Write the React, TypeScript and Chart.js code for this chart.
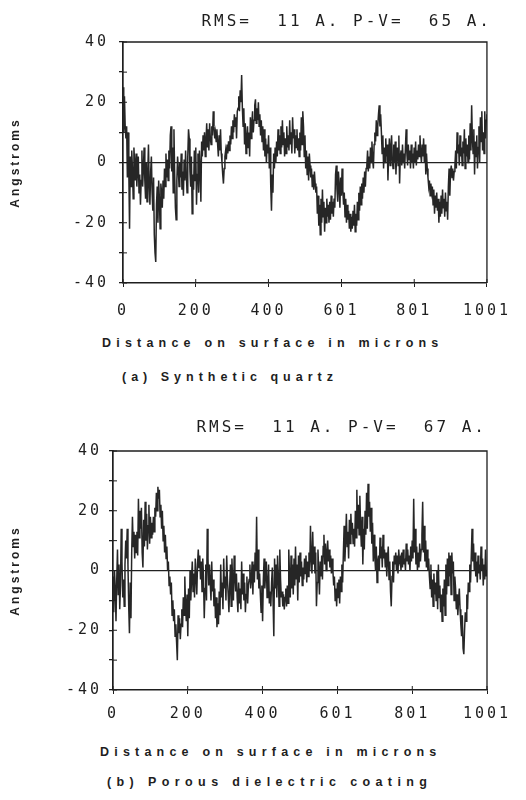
import React, { useEffect, useRef } from "react";
import { Chart, registerables } from "chart.js";

Chart.register(...registerables);

// ---- data ----------------------------------------------------------------
const X_MAX = 1001;
const X_TICK_VALUES = [0, 200, 400, 601, 801, 1001];
const X_TICK_LABELS = ["0", "200", "400", "601", "801", "1001"];
const Y_TICK_VALUES = [-40, -30, -20, -10, 0, 10, 20, 30, 40];
const Y_TICK_LABELS = ["-40", "", "-20", "", "0", "", "20", "", "40"];

const QUARTZ_TITLE = "RMS=  11 A. P-V=  65 A.";
const COATING_TITLE = "RMS=  11 A. P-V=  67 A.";
const X_AXIS_TITLE = "Distance on surface in microns";
const Y_AXIS_TITLE = "Angstroms";
const QUARTZ_CAPTION = "(a) Synthetic quartz";
const COATING_CAPTION = "(b) Porous dielectric coating";

// height profile, Angstroms, sampled uniformly from 0 to 1001 microns
const quartzValues = [
  25, 10, 22, 12, 8, 12, -5, 10, -3, -22,
  2, -8, 4, -2, -12, 5, 0, -6, 3, -8,
  -2, 2, -10, -4, -14, -6, 4, -8, -2, 5,
  -6, -12, 0, -13, -4, 6, -8, -14, -3, 2,
  -10, -16, -5, -24, -30, -33, -14, -8, -20, -6,
  -12, -22, -7, -10, -15, -6, -12, -2, -8, 3,
  -5, 1, -6, 4, -2, 9, 12, -3, 5, -10,
  11, -4, -15, -19, -6, 2, -2, -8, 0, -5,
  3, -9, -3, -11, 1, -6, 4, -4, -10, 2,
  11, 8, -3, -8, 2, -17, -4, -9, 4, -6,
  5, -14, -4, 3, -10, 4, -2, -13, 7, 2,
  9, 4, 10, 2, 7, 13, 5, 11, 4, 13,
  8, 6, 12, 9, 17, 12, 8, 10, 7, 11,
  6, 2, 9, 4, 11, 3, 0, -4, -7, -2,
  2, 4, 1, 6, 3, 7, 4, 9, 6, 12,
  8, 14, 10, 16, 12, 15, 8, 17, 18, 22,
  17, 24, 20, 29, 18, 12, 18, 6, 13, 3,
  8, 12, 5, 10, 2, 15, 8, 13, 17, 10,
  14, 19, 21, 13, 18, 14, 20, 12, 16, 9,
  14, 7, 12, 4, 11, 2, 8, 0, 6, 3,
  9, -2, 5, -8, -16, -4, -10, 3, -2, 5,
  0, 7, 2, 11, 4, 9, 3, 12, 5, 14,
  6, 10, 2, 8, 3, 12, 5, 9, 4, 14,
  6, 10, 3, 15, 8, 11, 3, 9, 5, 11,
  4, 8, 2, 10, 4, 15, 6, 17,
  12, 2, 9, -2, 4, -4, 2, -6, 3, -1,
  -5, -2, -8, -4, -9, -3, -7, -10, -8, -17,
  -11, -21, -14, -24, -12, -20, -9, -18, -13, -23,
  -15, -20, -12, -18, -14, -20, -13, -19, -11, -17,
  -13, -18, -12, -15, -4, -1, -9, -13, -3, -8,
  -15, -5, -11, -2, -9, -14, -10, -18, -12, -20,
  -14, -19, -16, -22, -17, -23, -18, -22, -16, -21,
  -14, -23, -17, -21, -13, -19, -10, -16, -8, -14,
  -7, -12, -5, -10, -3, -8, -2, -1, 4, -3,
  2, -2, 5, 0, 7, 1, -2, 6, 10, 7,
  14, 9, 12, 16, 19, 12, 16, 10, 3, 9,
  -2, 5, 0, 8, 2, 6, -6, 3, 8, -1,
  5, 9, 1, -2, 6, 0, 7, -4, 3, 5,
  -1, 9, -7, 2, 4, -1, 6, 0, 3, -2,
  5, 11, 3, -1, 6, 1, 4, -2, 6, 0,
  3, -2, 5, 0, 7, -1, 4, 1, 6, 2,
  9, 3, 0, 6, 2, 8, 0, 6, -4, 3,
  -2, -5, -8, -6, -11, -7, -10, -8, -14, -9,
  -17, -11, -15, -10, -16, -12, -20, -13, -18, -11,
  -17, -9, -15, -12, -18, -10, -16, -13, -19, -8,
  -2, -11, -3, -1, -5, -2, -6, -3, -1, 4,
  -2, 10, 3, 6, -1, 9, 2, 5, -1, 7,
  3, 11, -2, 8, 2, 6, 0, 9, 1, 13,
  4, 19, 8, 3, 11, -4, 7, 2, 9, -2,
  5, 12, 0, 15, 7, 17, 4, 10, 3, 17,
  8, 14, 16,
];

const coatingValues = [
  -2, -14, 0, -6, -17, -3, 7, -8, 2, -13,
  -5, 14, 3, -9, -3, -12, 2, 10, 4, 14,
  2, -12, -21, -4, -16, 6, 18, 8, 13, 4,
  12, 6, 13, 5, 24, 11, 20, 14, 21, 6,
  1, 17, 8, 23, 10, 19, 7, 15, 22, 9,
  18, 11, 16, 12, 18, 13, 21, 18, 26, 20,
  28, 24, 27, 18, 22, 14, 20, 10, 15, 6,
  12, 4, 8, 0, 3, -5, -2, -8, -4, -15,
  -10, -17, -13, -22, -18, -24, -30, -15, -21, -16,
  -23, -18, -13, -19, -9, -15, -2, -12, -17, -8,
  -22, -6, -16, 0, -10, -3, 3, -7, -1, -9,
  4, -2, -8, 2, 7, 1, 5, -3, 3, -7,
  4, -2, -16, -6, 2, -10, 14, 4, -5, 2,
  -4, -10, 3, -7, -3, -12, -6, -16, -9, -19,
  -11, -18, -7, -15, 2, -9, -4, -13, 4, -6,
  -2, -10, 5, -3, -8, -14, -5, 2, -12, 4,
  -4, -10, 5, -2, -7, -1, -9, -14, -4, -11,
  -6, -13, 3, -8, -1, -10, -4, -14, -8, -2,
  -11, -5, -3, 2, -6, -3, 3, -8, 2, -4,
  6, 0, 18, -3, 7, -6, -1, -8, -14, -5,
  -17, -3, 4, -6, -1, 3, -9, -5, 2, -11,
  -7, -12, -4, 1, -10, -22, 4, -6, 2, -9,
  5, -1, -12, 7, -3, -9, -7, -12, -8, -13,
  -9, -6, -12, -5, -11, 7, -2, -9, 5, -6,
  2, -8, 4, -5, 8, -3, 2, -10, 5, -4,
  6, -2, 3, -5, 1, -3, 4, -1, 5, -4,
  3, -2, 6, 0, 15, 4, -1, 13, 2, 8,
  -1, 6, -12, -4, 7, 0, -8, 3, -2, 5,
  -3, 8, 12, 2, 9, 0, 6, 10, 3, 7,
  1, 5, -1, 4, 0, -5, -2, -10, -6, -12,
  -4, -9, -3, -11, -2, -7, 2, -4, 6, 15,
  3, 10, 19, 8, 13, 4, 17, 9, 19, 12,
  16, 9, 14, 8, 20, 11, 27, 14, 22, 12,
  25, 15, 8, 18, 2, 14, 7, 20, 12, 26,
  14, 29, 18, 23, 13, 21, 9, 16, 3, 12,
  5, 0, 8, -4, 3, 5, 0, 11, 4, 8,
  1, 12, 4, 7, 1, 6, -2, 4, 8, -3,
  3, -7, -12, -2, 3, -4, 5, 2, 6, 0,
  5, -1, 7, 3, 4, 0, 6, 1, 7, 2,
  4, 0, 9, 3, 7, 2, 5, 0, 8, 3,
  10, 4, 24, 6, 14, 2, 8, 0, 6, 1,
  9, 3, 7, 12, 23, 6, 15, 3, 10, 1,
  7, 0, 4, -2, -6, 2, -9, -3, -12, -1,
  -8, -4, -10, 0, -13, 2, -9, -5, -14, -8,
  -17, -6, -12, -3, -15, 2, -8, 4, -5, 6,
  -2, 5, -8, 6, -1, 3, -10, -2, -6, -13,
  -8, -15, -10, -6, -13, -18, -22, -15, -26, -28,
  -20, -14, -17, -8, -13, -4, -7, 2, -4, 5,
  14, 3, 9, 0, 6, -2, 3, -4, 5, -1,
  2, -3, 8, 0, 4, -5, 2, -3, 7, -2,
  0,
];

// ---- styling / layout ----------------------------------------------------
const W = 526;
const INK = "#1e1e1e";
const MONO = "'DejaVu Sans Mono', 'Liberation Mono', monospace";
const SANS = "'Liberation Sans', Arial, sans-serif";
const SPACING = "3px";

const spacingPlugin = {
  id: "letterSpacing",
  beforeLayout(c: any) {
    c.ctx.letterSpacing = SPACING;
  },
  beforeDraw(c: any) {
    c.ctx.letterSpacing = SPACING;
  },
};

const framePlugin = {
  id: "frame",
  afterDatasetsDraw(c: any) {
    const { ctx, chartArea } = c;
    const { left, right, top, bottom } = chartArea;
    ctx.save();
    ctx.strokeStyle = INK;
    ctx.lineWidth = 1.3;
    ctx.beginPath();
    ctx.moveTo(left, top);
    ctx.lineTo(right, top);
    ctx.lineTo(right, bottom);
    ctx.stroke();
    ctx.lineWidth = 1;
    ctx.beginPath();
    for (const t of c.scales.y.ticks) {
      const py = c.scales.y.getPixelForValue(t.value);
      ctx.moveTo(left, py);
      ctx.lineTo(left + 4, py);
    }
    for (const t of c.scales.x.ticks) {
      const px = c.scales.x.getPixelForValue(t.value);
      ctx.moveTo(px, bottom);
      ctx.lineTo(px, bottom - 4);
    }
    ctx.stroke();
    ctx.restore();
  },
};

type Geo = {
  height: number;
  plotLeft: number;
  plotRight: number;
  plotTop: number;
  plotBottom: number;
  titleY: number;
  xLabelPad: number;
  yLabelPad: number;
};

function makeConfig(values: number[], title: string, g: Geo): any {
  const n = values.length;
  const points = values.map((v, i) => ({ x: (i * X_MAX) / (n - 1), y: v }));
  const tickFont = { family: MONO, size: 15, weight: "normal" as const };
  return {
    type: "line",
    data: {
      datasets: [
        {
          data: points,
          borderColor: "#262626",
          borderWidth: 1.5,
          pointRadius: 0,
          tension: 0,
          fill: false,
        },
      ],
    },
    options: {
      animation: false,
      responsive: false,
      maintainAspectRatio: false,
      devicePixelRatio: 1,
      layout: { padding: { left: 0, right: W - g.plotRight, top: 0, bottom: 0 } },
      plugins: {
        legend: { display: false },
        tooltip: { enabled: false },
        title: {
          display: true,
          text: title,
          align: "end",
          color: INK,
          font: { family: MONO, size: 16, weight: "normal" },
          padding: { top: g.titleY - 9.6, bottom: g.plotTop - (g.titleY - 9.6) - 19.2 },
        },
      },
      scales: {
        x: {
          type: "linear",
          min: 0,
          max: X_MAX,
          afterBuildTicks: (s: any) => {
            s.ticks = X_TICK_VALUES.map((v) => ({ value: v }));
          },
          afterFit: (s: any) => {
            s.height = g.height - g.plotBottom;
          },
          ticks: {
            callback: (_v: any, i: number) => X_TICK_LABELS[i],
            autoSkip: false,
            maxRotation: 0,
            padding: g.xLabelPad,
            color: INK,
            font: tickFont,
          },
          grid: {
            drawOnChartArea: false,
            drawTicks: true,
            tickLength: 4,
            color: INK,
            tickColor: INK,
          },
          border: { display: true, color: INK, width: 1.4 },
        },
        y: {
          type: "linear",
          min: -40,
          max: 40,
          afterBuildTicks: (s: any) => {
            s.ticks = Y_TICK_VALUES.map((v) => ({ value: v }));
          },
          afterFit: (s: any) => {
            s.width = g.plotLeft;
          },
          ticks: {
            callback: (_v: any, i: number) => Y_TICK_LABELS[i],
            autoSkip: false,
            padding: g.yLabelPad,
            color: INK,
            font: tickFont,
          },
          grid: {
            drawOnChartArea: true,
            drawTicks: true,
            tickLength: 4,
            lineWidth: 1.3,
            color: (ctx: any) =>
              ctx.tick && ctx.tick.value === 0 ? "#222" : "rgba(0,0,0,0)",
            tickColor: INK,
          },
          border: { display: true, color: INK, width: 1.7 },
          title: {
            display: true,
            text: Y_AXIS_TITLE,
            color: INK,
            font: { family: SANS, size: 12, weight: "bold" },
            padding: { top: 8, bottom: 0 },
          },
        },
      },
    },
    plugins: [spacingPlugin, framePlugin],
  };
}

function Profile(props: { values: number[]; title: string; top: number; geo: Geo }) {
  const ref = useRef<HTMLCanvasElement | null>(null);
  useEffect(() => {
    if (!ref.current) return;
    const chart = new Chart(ref.current, makeConfig(props.values, props.title, props.geo));
    return () => chart.destroy();
  }, []);
  return (
    <canvas
      ref={ref}
      width={W}
      height={props.geo.height}
      style={{
        position: "absolute",
        left: 0,
        top: props.top,
        width: W,
        height: props.geo.height,
      }}
    />
  );
}

const captionStyle = (left: number, centerY: number, spacing: number): React.CSSProperties => ({
  position: "absolute",
  left,
  top: centerY - 8,
  lineHeight: "16px",
  fontFamily: SANS,
  fontWeight: "bold",
  fontSize: 12.5,
  letterSpacing: spacing,
  color: INK,
  whiteSpace: "pre",
});

export default function App() {
  const topGeo: Geo = {
    height: 330,
    plotLeft: 123,
    plotRight: 492,
    plotTop: 42,
    plotBottom: 283,
    titleY: 22,
    xLabelPad: 15,
    yLabelPad: 10,
  };
  const bottomGeo: Geo = {
    height: 330,
    plotLeft: 113,
    plotRight: 487,
    plotTop: 45,
    plotBottom: 284,
    titleY: 22,
    xLabelPad: 11,
    yLabelPad: 7,
  };
  return (
    <div
      style={{
        position: "absolute",
        left: 0,
        top: 0,
        width: W,
        height: 800,
        background: "#fff",
        overflow: "hidden",
      }}
    >
      <Profile values={quartzValues} title={QUARTZ_TITLE} top={0} geo={topGeo} />
      <Profile values={coatingValues} title={COATING_TITLE} top={406} geo={bottomGeo} />
      <div style={captionStyle(102, 343, 5.2)}>{X_AXIS_TITLE}</div>
      <div style={captionStyle(122, 377, 5.0)}>{QUARTZ_CAPTION}</div>
      <div style={captionStyle(100, 752, 5.2)}>{X_AXIS_TITLE}</div>
      <div style={captionStyle(107, 782, 5.4)}>{COATING_CAPTION}</div>
    </div>
  );
}
